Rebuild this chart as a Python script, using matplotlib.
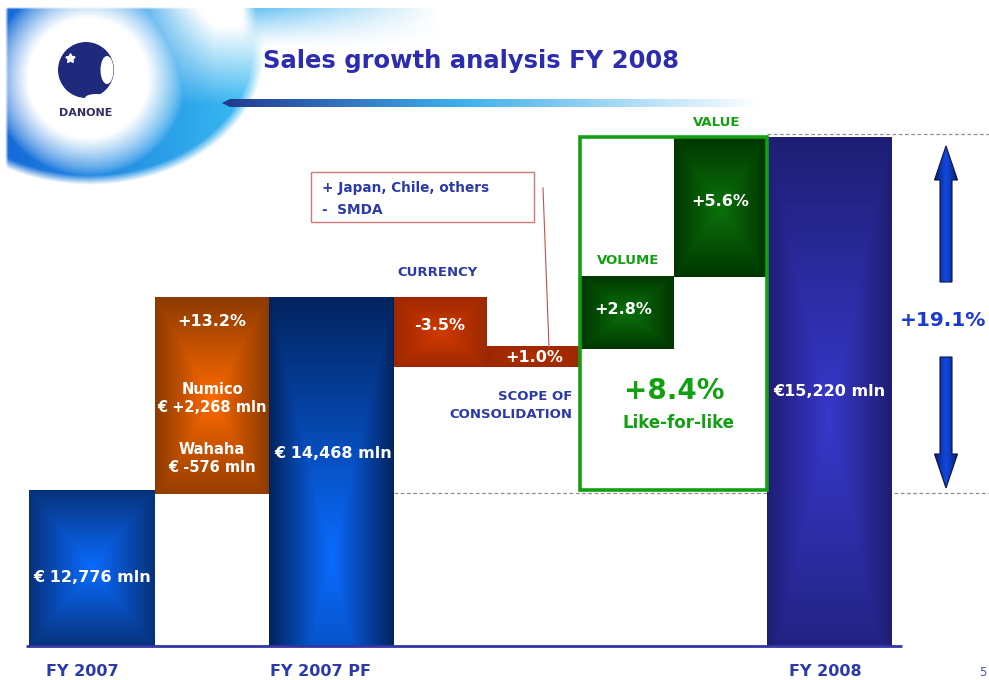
import numpy as np
import matplotlib
matplotlib.use("Agg")
import matplotlib.pyplot as plt
from matplotlib.colors import to_rgb
from matplotlib.patches import Polygon, Rectangle, Circle, Ellipse

plt.rcParams['font.family'] = ['DejaVu Sans']

# ---------------- data (schematic levels) ----------------
steps = ["FY 2007", "Acquisitions", "FY 2007 PF", "Currency", "Scope",
         "Volume", "Value", "FY 2008"]
bottoms = [0, 152, 0, 279, 279, 297, 369, 0]
tops = [156, 349, 349, 349, 300, 370, 509, 509]
step_pct = ["", "+13.2%", "", "-3.5%", "+1.0%", "+2.8%", "+5.6%", ""]
totals_label = ["€ 12,776 mln", "€ 14,468 mln", "€15,220 mln"]
acq_detail = ["Numico", "€ +2,268 mln", "Wahaha", "€ -576 mln"]
scope_note = ["+ Japan, Chile, others", "-  SMDA"]
lfl_value = "+8.4%"
total_growth = "+19.1%"
axis_labels = ["FY 2007", "FY 2007 PF", "FY 2008"]

# ---------------- layout / styles ----------------
W, H = 989, 680
BASE = 646  # pixel row of the baseline
edges = [29, 155, 269, 394, 487, 580, 674, 767, 892]

def Y(py):
    return BASE - py

fig = plt.figure(figsize=(W / 100, H / 100), dpi=100)
ax = fig.add_axes([0, 0, 1, 1])
ax.set_xlim(0, W)
ax.set_ylim(Y(H), Y(0))
ax.axis('off')

def grad(c_center, c_edge, mode="rect", cx=0.5, cy=0.5, gamma=1.0, n=200):
    u = np.linspace(0, 1, n)
    X, Yg = np.meshgrid(u, u)
    dx = np.abs(X - cx) / max(cx, 1 - cx)
    dy = np.abs(Yg - cy) / max(cy, 1 - cy)
    if mode == "rect":
        t = np.maximum(dx, dy)
    elif mode == "h":
        t = dx
    elif mode == "v":
        t = dy
    else:
        t = np.clip(np.sqrt(dx ** 2 + dy ** 2), 0, 1)
    t = np.clip(t, 0, 1) ** gamma
    a = np.array(to_rgb(c_center))
    b = np.array(to_rgb(c_edge))
    return a[None, None, :] * (1 - t[..., None]) + b[None, None, :] * t[..., None]

def fill_patch(patch, img, extent, z):
    im = ax.imshow(img, extent=extent, origin="lower", aspect="auto",
                   zorder=z, interpolation="bilinear")
    im.set_clip_path(patch)

# ---------------- header decoration ----------------
n = 400
xs = np.linspace(0, 270, n)
ys = np.linspace(0, 195, n)
XX, YY = np.meshgrid(xs, ys)
d = np.sqrt(((XX - 90) / 175) ** 2 + ((YY - 50) / 135) ** 2)
alpha = np.clip((1.0 - d) * 14, 0, 1) * np.clip((XX - 5) / 3, 0, 1) * np.clip((YY - 7) / 2, 0, 1)
c_dark = np.array(to_rgb("#1468d8"))
c_cyan = np.array(to_rgb("#36b8f0"))
s = np.clip(XX / 240, 0, 1)[..., None]
base_rgb = c_dark * (1 - s) + c_cyan * s
r = np.sqrt((XX - 88) ** 2 + (YY - 78) ** 2)
w_white = np.clip(1 - (r - 60) / 38, 0, 1) ** 0.8
w_ur = np.clip((XX - 125) / 90, 0, 1) * np.clip(1 - (YY - 10) / 95, 0, 1)
wf = np.clip(np.maximum(w_white, w_ur * 1.2), 0, 1)[..., None]
rgb = base_rgb * (1 - wf) + np.ones(3) * wf
ax.imshow(np.dstack([rgb, alpha]), extent=[0, 270, Y(195), Y(0)], origin="upper",
          aspect="auto", zorder=1, interpolation="bilinear")
# top ribbon
xs2 = np.linspace(235, 440, 250)
ys2 = np.linspace(8, 50, 60)
X2, Y2 = np.meshgrid(xs2, ys2)
a2 = (np.clip(1 - (Y2 - 8) / 40, 0, 1) ** 1.3 * np.clip((X2 - 242) / 14, 0, 1)
      * np.clip(1 - (X2 - 260) / 180, 0, 1))
rgb2 = np.ones(X2.shape + (3,)) * np.array(to_rgb("#6cc4f2"))
ax.imshow(np.dstack([rgb2, a2]), extent=[235, 440, Y(50), Y(8)], origin="upper",
          aspect="auto", zorder=1, interpolation="bilinear")
# logo
ax.add_patch(Circle((88, Y(78)), 60, facecolor="white", edgecolor="none", zorder=2))
ax.add_patch(Circle((86, Y(70)), 28, facecolor="#1f2a7c", edgecolor="none", zorder=3))
ax.add_patch(Ellipse((107, Y(70)), 13, 28, facecolor="white", edgecolor="none", zorder=3.5))
ax.add_patch(Ellipse((96, Y(98)), 22, 8, facecolor="white", edgecolor="none", zorder=3.5))
ax.plot([70], [Y(58)], marker=(5, 1, 0), color="white", markersize=7, zorder=4)
ax.text(86, Y(113), "DANONE", ha="center", va="center", fontsize=8,
        fontweight="bold", color="#303060", zorder=4)
# title underline
xs3 = np.linspace(0, 1, 400)
col_a = np.array(to_rgb("#22388e"))
col_b = np.array(to_rgb("#40b0ec"))
col_c = np.array(to_rgb("#ffffff"))
k = 0.45
line_rgb = np.where(xs3[:, None] < k,
                    col_a * (1 - xs3[:, None] / k) + col_b * (xs3[:, None] / k),
                    col_b * (1 - (xs3[:, None] - k) / (1 - k)) + col_c * ((xs3[:, None] - k) / (1 - k)))
line_patch = Polygon([(222, Y(103)), (230, Y(99)), (760, Y(99)), (760, Y(107)), (230, Y(107))],
                     closed=True, facecolor="none", edgecolor="none", zorder=2)
ax.add_patch(line_patch)
im = ax.imshow(line_rgb[None, :, :], extent=[222, 760, Y(107), Y(99)], aspect="auto",
               zorder=2, interpolation="bilinear")
im.set_clip_path(line_patch)
ax.text(471, Y(61), "Sales growth analysis FY 2008", ha="center", va="center",
        fontsize=17.5, fontweight="bold", color="#2c2cb0", zorder=5)

# ---------------- bars ----------------
lefts = edges[:-1]
widths = [edges[i + 1] - edges[i] for i in range(len(steps))]
heights = [t - b for t, b in zip(tops, bottoms)]
bars = ax.bar(lefts, heights, width=widths, bottom=bottoms, align="edge",
              color="none", edgecolor="none", zorder=3)

styles = [
    ("#0a6cff", "#07327a", "rect", 0.5, 0.5, 1.0),
    ("#ff6a00", "#8c3a00", "rect", 0.5, 0.48, 1.0),
    ("#0a6cff", "#02235e", "rect", 0.5, 0.25, 1.0),
    ("#d23a00", "#9c2800", "rect", 0.5, 0.5, 1.0),
    ("#b03000", "#9c2800", "rect", 0.5, 0.5, 1.0),
    ("#0b720b", "#003600", "rect", 0.5, 0.5, 1.0),
    ("#0b720b", "#003600", "rect", 0.5, 0.5, 1.0),
    ("#3838cc", "#1e1e74", "rect", 0.5, 0.45, 1.0),
]
for b, st in zip(bars, styles):
    x0, y0 = b.get_x(), b.get_y()
    x1, y1 = x0 + b.get_width(), y0 + b.get_height()
    img = grad(st[0], st[1], st[2], st[3], st[4], st[5])
    fill_patch(b, img, [x0, x1, y0, y1], 3)

# baseline
ax.plot([26, 902], [0, 0], color="#3535a5", lw=2, zorder=4, solid_capstyle="butt")

# dashed reference lines at FY 2007 and FY 2008 levels
ax.plot([edges[7], W], [tops[7] + 3, tops[7] + 3], color="#909090", lw=0.9,
        ls=(0, (3, 2)), zorder=2)
ax.plot([edges[3], W], [tops[0] - 3, tops[0] - 3], color="#909090", lw=0.9,
        ls=(0, (3, 2)), zorder=2)

# like-for-like frame
ax.add_patch(Rectangle((edges[5], tops[0]), edges[7] - edges[5], tops[6] - tops[0],
                       facecolor="none", edgecolor="#12a012", lw=2.6, zorder=5))

# ---------------- labels on bars ----------------
WB = dict(color="white", fontweight="bold", ha="center", va="center", zorder=6)
ax.text(92, Y(577), totals_label[0], fontsize=11.5, **WB)
ax.text(333, Y(453), totals_label[1], fontsize=11.5, **WB)
ax.text(829, Y(391), totals_label[2], fontsize=11.5, **WB)

ax.text(212, Y(322), step_pct[1], fontsize=11.5, **WB)
ax.text(212, Y(390), acq_detail[0], fontsize=10.5, **WB)
ax.text(212, Y(408), acq_detail[1], fontsize=10.5, **WB)
ax.text(212, Y(449), acq_detail[2], fontsize=10.5, **WB)
ax.text(212, Y(467), acq_detail[3], fontsize=10.5, **WB)
ax.text(440, Y(326), step_pct[3], fontsize=11.5, **WB)
ax.text(534, Y(358), step_pct[4], fontsize=11.5, **WB)
ax.text(623, Y(310), step_pct[5], fontsize=11.5, **WB)
ax.text(720, Y(202), step_pct[6], fontsize=11.5, **WB)

BL = dict(color="#2b3aa8", fontweight="bold", zorder=6)
ax.text(438, Y(273), "CURRENCY", fontsize=9.5, ha="center", va="center", **BL)
ax.text(572, Y(396), "SCOPE OF", fontsize=9.5, ha="right", va="center", **BL)
ax.text(572, Y(415), "CONSOLIDATION", fontsize=9.5, ha="right", va="center", **BL)

GR = dict(color="#12a012", fontweight="bold", ha="center", va="center", zorder=6)
ax.text(717, Y(122), "VALUE", fontsize=9.5, **GR)
ax.text(628, Y(260), "VOLUME", fontsize=9.5, **GR)
ax.text(674, Y(391), lfl_value, fontsize=20, **GR)
ax.text(678, Y(423), "Like-for-like", fontsize=12, **GR)

# callout box
ax.add_patch(Rectangle((311, Y(222)), 223, 50, facecolor="white",
                       edgecolor="#d07a7a", lw=1.0, zorder=5))
ax.text(322, Y(188), scope_note[0], fontsize=9.8, ha="left", va="center", **BL)
ax.text(322, Y(210), scope_note[1], fontsize=9.8, ha="left", va="center", **BL)
ax.plot([543, 549], [Y(188), Y(348)], color="#c05050", lw=0.8, zorder=6)

# ---------------- growth arrows ----------------
def arrow_poly(xc, y_tail, y_head, head_len, shaft_hw, head_hw):
    sgn = 1 if y_head > y_tail else -1
    yb = y_head - sgn * head_len
    return [(xc - shaft_hw, y_tail), (xc - shaft_hw, yb), (xc - head_hw, yb),
            (xc, y_head), (xc + head_hw, yb), (xc + shaft_hw, yb),
            (xc + shaft_hw, y_tail)]

for (yt, yh) in [(Y(282), Y(146)), (Y(357), Y(488))]:
    pts = arrow_poly(946, yt, yh, 34, 6, 11.5)
    poly = Polygon(pts, closed=True, facecolor="none", edgecolor="#0a1440",
                   lw=0.8, zorder=6)
    ax.add_patch(poly)
    ys_ = [p[1] for p in pts]
    img = grad("#1248e0", "#081a5c", "h", 0.5, 0.5, 1.2)
    fill_patch(poly, img, [934, 958, min(ys_), max(ys_)], 5)

ax.text(943, Y(321), total_growth, fontsize=14.5, color="#1a3ad0",
        fontweight="bold", ha="center", va="center", zorder=6)

# ---------------- category labels ----------------
ax.text(82, Y(671), axis_labels[0], fontsize=11.5, ha="center", va="center", **BL)
ax.text(321, Y(671), axis_labels[1], fontsize=11.5, ha="center", va="center", **BL)
ax.text(825, Y(671), axis_labels[2], fontsize=11.5, ha="center", va="center", **BL)
ax.text(979, Y(673), "5", fontsize=8.5, ha="left", va="center", color="#4a5aa8", zorder=6)

fig.savefig("out.png", dpi=100)
